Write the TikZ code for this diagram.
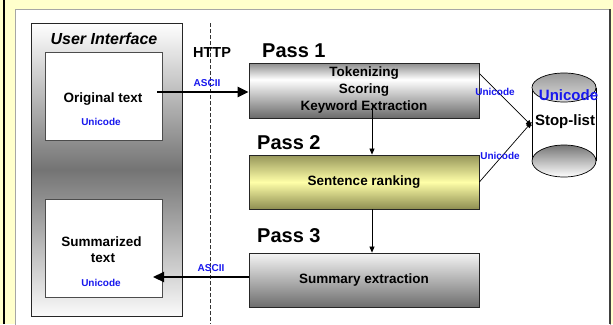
\documentclass[tikz,border=0pt]{standalone}
\usepackage{fontspec}
\setmainfont{Liberation Sans}
\usetikzlibrary{arrows.meta,calc}

% palette
\definecolor{bgyellow}{HTML}{FFFFCC}
\definecolor{tagblue}{RGB}{24,24,238}
\definecolor{passAtop}{HTML}{8C8C8C}
\definecolor{passAbot}{HTML}{6A6A6A}
\definecolor{passBtop}{HTML}{96965A}
\definecolor{passBmid}{HTML}{FFFFA8}
\definecolor{passBbot}{HTML}{8E8E52}
\definecolor{passCtop}{HTML}{F4F4F4}
\definecolor{passCbot}{HTML}{6E6E6E}
\definecolor{uiedge}{HTML}{FAFAFA}
\definecolor{uimid}{HTML}{747474}
\definecolor{captop}{HTML}{9A9A9A}
\definecolor{capbot}{HTML}{DCDCDC}
\definecolor{basetop}{HTML}{767676}

% vertical shadings (path is mapped onto 25bp..75bp, bottom to top)
\pgfdeclareverticalshading{passA}{100bp}{color(0bp)=(passAbot); color(25bp)=(passAbot); color(60bp)=(white); color(75bp)=(passAtop); color(100bp)=(passAtop)}
\pgfdeclareverticalshading{passB}{100bp}{color(0bp)=(passBbot); color(25bp)=(passBbot); color(50bp)=(passBmid); color(75bp)=(passBtop); color(100bp)=(passBtop)}
\pgfdeclareverticalshading{passC}{100bp}{color(0bp)=(passCbot); color(25bp)=(passCbot); color(75bp)=(passCtop); color(100bp)=(passCtop)}
\pgfdeclareverticalshading{uipanel}{100bp}{color(0bp)=(uiedge); color(25bp)=(uiedge); color(50bp)=(uimid); color(75bp)=(white); color(100bp)=(white)}
\pgfdeclareverticalshading{dbcap}{100bp}{color(0bp)=(capbot); color(25bp)=(capbot); color(75bp)=(captop); color(100bp)=(captop)}
\pgfdeclareverticalshading{dbbase}{100bp}{color(0bp)=(white); color(25bp)=(white); color(75bp)=(basetop); color(100bp)=(basetop)}

\tikzset{
  passbox/.style={draw=black!85, line width=0.8pt, minimum width=230pt, minimum height=54pt,
    inner sep=0pt, align=center, font=\bfseries\fontsize{13.5}{17}\selectfont},
  txtbox/.style={draw=black!70, fill=white, line width=0.8pt, minimum width=117pt, inner sep=0pt},
  lbl/.style={font=\bfseries\fontsize{13.5}{16}\selectfont, inner sep=0pt, anchor=base},
  tag/.style={font=\bfseries\fontsize{10}{12}\selectfont, text=tagblue, inner sep=0pt, anchor=base},
  passlbl/.style={font=\bfseries\fontsize{20}{24}\selectfont, inner sep=0pt, anchor=base west},
  bigarrow/.style={line width=2.2pt, -{Triangle[length=11pt,width=10pt]}},
  thinarrow/.style={line width=0.7pt, -{Triangle[length=6pt,width=5pt]}}
}

\begin{document}
\begin{tikzpicture}[x=1pt,y=-1pt]
\useasboundingbox (0,0) rectangle (613,324);

% backdrop and white sheet
\fill[bgyellow] (0,0) rectangle (613,324);
\draw[line width=2pt, black] (4,0) -- (4,324);
\draw[fill=white, draw=gray!70, line width=0.8pt] (15,9) rectangle (610,340);
\draw[line width=1.6pt, black!75] (610,9) -- (610,324);

% user interface column
\node[draw=black!85, line width=0.8pt, shading=uipanel, minimum width=151pt, minimum height=293pt,
      inner sep=0pt] (ui) at (106.5,169.5) {};
\node[font=\bfseries\itshape\fontsize{16}{19}\selectfont, inner sep=0pt, anchor=base] (uititle) at (104,44) {User Interface};

\node[txtbox, minimum height=88pt] (orig) at (103.5,96) {};
\node[lbl] (origtxt) at (103,102.5) {Original text};
\node[tag] (origtag) at (101,125) {Unicode};

\node[txtbox, minimum height=98pt] (summ) at (103.5,248) {};
\node[lbl] (summtxt) at (101.5,246) {Summarized};
\node[lbl] (summtxt2) at (103,262) {text};
\node[tag] (summtag) at (101,286) {Unicode};

% HTTP boundary
\coordinate (httptop) at (210,23);
\coordinate (httpbot) at (210,324);
\draw[black!80, line width=0.7pt, dash pattern=on 4pt off 2pt] (httptop) -- (httpbot);
\node[font=\bfseries\fontsize{14.5}{17}\selectfont, inner sep=0pt, anchor=base] (http) at (212,57) {HTTP};

% processing passes
\node[passlbl] (pass1) at (262,57) {Pass 1};
\node[passlbl] (pass2) at (257,149) {Pass 2};
\node[passlbl] (pass3) at (257,242) {Pass 3};

\node[passbox, shading=passA, minimum height=55pt] (p1) at (364,90.5) {Tokenizing\\Scoring\\Keyword Extraction};
\node[passbox, shading=passB] (p2) at (364,182) {Sentence ranking};
\node[passbox, shading=passC] (p3) at (364,280) {Summary extraction};

\draw[thinarrow] ([xshift=8pt,yshift=14pt]p1.south) -- ([xshift=8pt]p2.north);
\draw[thinarrow] ([xshift=8pt]p2.south) -- ([xshift=8pt]p3.north);

% transfer between client and server
\coordinate (sendstart) at (157,92);
\draw[bigarrow] (sendstart) -- (sendstart -| p1.west);
\node[tag] (asciiin) at (207,86) {ASCII};

\coordinate (returnend) at (153,277);
\draw[bigarrow] (returnend -| p3.west) -- (returnend);
\node[tag] (asciiout) at (211,271) {ASCII};

% stop-list store
\node[minimum width=64pt, minimum height=106pt, inner sep=0pt] (db) at (564,124) {};
\fill[white] (532,87.5) rectangle (596,161);
\draw[line width=0.7pt] (532,87.5) -- (532,161);
\draw[line width=0.7pt] (596,87.5) -- (596,161);
\draw[line width=0.7pt, shading=dbbase] (564,161) ellipse [x radius=32pt, y radius=16pt];
\draw[line width=0.7pt, shading=dbcap] (564,87.5) ellipse [x radius=32pt, y radius=14.5pt];
\node[font=\bfseries\fontsize{15}{18}\selectfont, text=tagblue, inner sep=0pt, anchor=base] (dbtag) at (568.5,100) {Unicode};
\node[font=\bfseries\fontsize{15}{18}\selectfont, inner sep=0pt, anchor=base] (dbname) at (565,125) {Stop-list};

\draw[thinarrow] ([yshift=-11pt]p1.north east) -- ([yshift=-2pt]db.west);
\draw[thinarrow] (p2.east) -- ([yshift=2pt]db.west);
\node[tag] (uni1) at (495,95) {Unicode};
\node[tag] (uni2) at (500,159) {Unicode};
\end{tikzpicture}
\end{document}
